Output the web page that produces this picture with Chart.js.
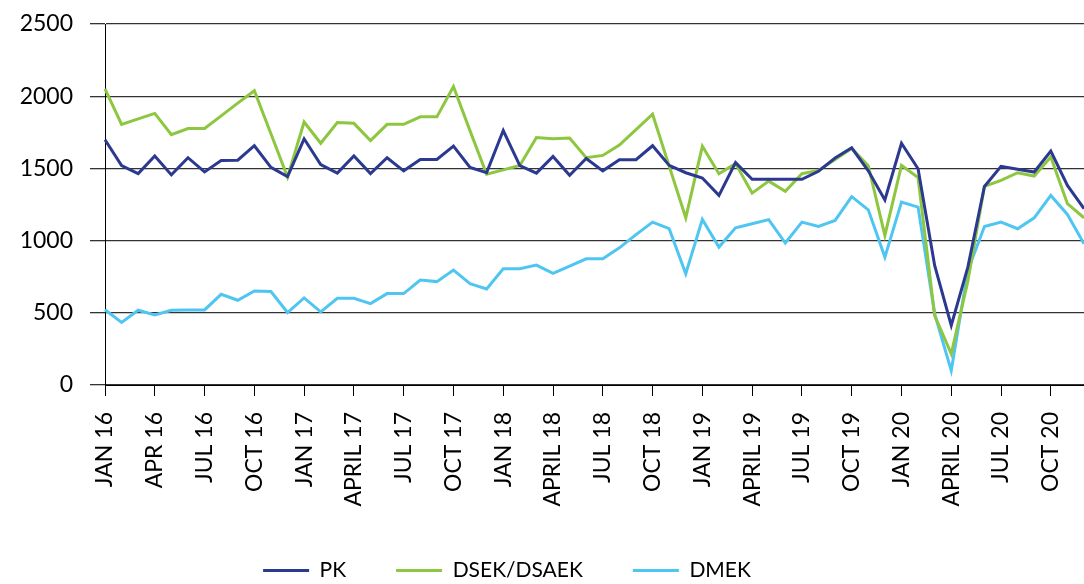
<!DOCTYPE html>
<html>
<head>
<meta charset="utf-8">
<script src="https://cdn.jsdelivr.net/npm/chart.js@4.4.1/dist/chart.umd.min.js"></script>
<style>
  html, body { margin: 0; padding: 0; background: #fff; }
  #wrap { width: 1084px; height: 584px; }
</style>
</head>
<body>
<div id="wrap"><canvas id="chart"></canvas></div>
<script>
// monthly values, JAN 16 .. DEC 20
const months = [
  "JAN 16", "FEB 16", "MAR 16", "APR 16", "MAY 16", "JUN 16", "JUL 16", "AUG 16", "SEP 16", "OCT 16", "NOV 16", "DEC 16",
  "JAN 17", "FEB 17", "MAR 17", "APRIL 17", "MAY 17", "JUN 17", "JUL 17", "AUG 17", "SEP 17", "OCT 17", "NOV 17", "DEC 17",
  "JAN 18", "FEB 18", "MAR 18", "APRIL 18", "MAY 18", "JUN 18", "JUL 18", "AUG 18", "SEP 18", "OCT 18", "NOV 18", "DEC 18",
  "JAN 19", "FEB 19", "MAR 19", "APRIL 19", "MAY 19", "JUN 19", "JUL 19", "AUG 19", "SEP 19", "OCT 19", "NOV 19", "DEC 19",
  "JAN 20", "FEB 20", "MAR 20", "APRIL 20", "MAY 20", "JUN 20", "JUL 20", "AUG 20", "SEP 20", "OCT 20", "NOV 20", "DEC 20",
];

const pk = [
  1698, 1519, 1464, 1586, 1455, 1574, 1476, 1555, 1557, 1657, 1507, 1443,
  1705, 1526, 1467, 1586, 1464, 1574, 1483, 1562, 1562, 1655, 1507, 1471,
  1762, 1519, 1467, 1583, 1452, 1569, 1483, 1560, 1560, 1657, 1521, 1470,
  1433, 1313, 1540, 1424, 1424, 1424, 1424, 1480, 1572, 1643, 1483, 1281,
  1674, 1498, 828, 412, 816, 1375, 1514, 1494, 1475, 1620, 1382, 1221,
];

const dsek = [
  2050, 1805, 1843, 1881, 1733, 1776, 1776, 1864, 1952, 2038, 1740, 1440,
  1821, 1674, 1817, 1812, 1693, 1805, 1805, 1857, 1857, 2067, 1760, 1460,
  1490, 1520, 1714, 1705, 1710, 1574, 1590, 1662, 1769, 1875, 1516, 1158,
  1653, 1463, 1533, 1329, 1412, 1341, 1463, 1486, 1562, 1638, 1519, 1036,
  1521, 1436, 480, 216, 719, 1375, 1417, 1470, 1447, 1579, 1256, 1158,
];

const dmek = [
  521, 433, 518, 485, 518, 520, 520, 628, 587, 651, 647, 502,
  603, 507, 601, 601, 564, 633, 633, 727, 716, 796, 702, 665,
  805, 805, 830, 773, 823, 874, 874, 950, 1041, 1128, 1083, 770,
  1147, 955, 1089, 1117, 1145, 983, 1128, 1098, 1140, 1305, 1213, 886,
  1267, 1232, 493, 100, 793, 1098, 1128, 1082, 1158, 1313, 1181, 978,
];

const yTicks = [0, 500, 1000, 1500, 2000, 2500];

const FONT = "Lato";

// nudges the centred legend a bit to the left, like the original
const legendShift = {
  id: "legendShift",
  afterLayout(chart) {
    if (chart.legend) chart.legend.right -= 70;
  },
};

new Chart(document.getElementById("chart"), {
  type: "line",
  data: {
    labels: months,
    datasets: [
      { label: "PK", data: pk, borderColor: "#2b3990", backgroundColor: "#2b3990" },
      { label: "DSEK/DSAEK", data: dsek, borderColor: "#8dc63f", backgroundColor: "#8dc63f" },
      { label: "DMEK", data: dmek, borderColor: "#4fc6f2", backgroundColor: "#4fc6f2" },
    ],
  },
  options: {
    responsive: true,
    maintainAspectRatio: false,
    animation: false,
    elements: {
      line: { borderWidth: 3, tension: 0 },
      point: { radius: 0, hoverRadius: 0 },
    },
    layout: { padding: { top: 24, right: 0, left: 0, bottom: -7 } },
    plugins: {
      legend: {
        position: "bottom",
        labels: {
          font: { family: FONT, size: 21 },
          color: "#000",
          boxWidth: 46,
          boxHeight: 3,
          padding: 50,
          generateLabels: (chart) =>
            Chart.defaults.plugins.legend.labels
              .generateLabels(chart)
              .map((l) => ({ ...l, lineWidth: 0 })),
        },
      },
      tooltip: { enabled: false },
    },
    scales: {
      x: {
        afterFit: (s) => {
          s.height = 125;
          s.paddingLeft = 0;
          s.paddingRight = 0;
        },
        border: { display: true, color: "#000", width: 1 },
        grid: {
          drawOnChartArea: false,
          tickLength: 11,
          color: (ctx) => (ctx.index % 3 === 0 ? "#000" : "rgba(0,0,0,0)"),
        },
        ticks: {
          autoSkip: false,
          maxRotation: 90,
          minRotation: 90,
          padding: 16,
          color: "#000",
          font: { family: FONT, size: 23 },
          callback: (v, i) => (i % 3 === 0 ? months[i] : ""),
        },
      },
      y: {
        min: 0,
        max: 2500,
        afterFit: (s) => {
          s.width = 105;
          s.paddingTop = 0;
          s.paddingBottom = 0;
        },
        afterBuildTicks: (s) => { s.ticks = yTicks.map((v) => ({ value: v })); },
        border: { display: true, color: "#000", width: 1 },
        grid: { color: "#333", lineWidth: 1.3, tickLength: 15 },
        ticks: {
          padding: 17,
          color: "#000",
          font: { family: FONT, size: 23 },
          callback: (v) => String(v),
        },
      },
    },
  },
  plugins: [legendShift],
});
</script>
</body>
</html>
